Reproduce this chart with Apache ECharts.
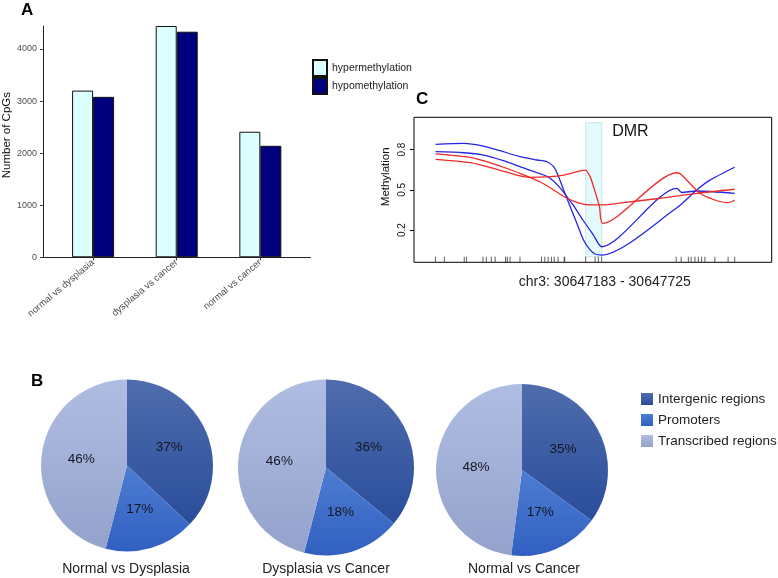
<!DOCTYPE html>
<html><head><meta charset="utf-8">
<script src="https://cdn.jsdelivr.net/npm/echarts@6/dist/echarts.min.js"></script>
<style>html,body{margin:0;padding:0;background:#fff}#c{width:778px;height:578px}</style>
</head><body><div id="c"></div>
<script>
// ---------- Panel A: differentially methylated CpGs ----------
const comparisons = ['normal vs dysplasia', 'dysplasia vs cancer', 'normal vs cancer'];
const hyperCounts = [3200, 4440, 2410];
const hypoCounts = [3080, 4330, 2140];
const countTicks = [0, 1000, 2000, 3000, 4000];
const countMax = 4440;

// ---------- Panel B: genomic distribution (%) ----------
const regionNames = ['Intergenic regions', 'Promoters', 'Transcribed regions'];
const pieTitles = ['Normal vs Dysplasia', 'Dysplasia vs Cancer', 'Normal vs Cancer'];
const pieNormalDysplasia = [37, 17, 46];
const pieDysplasiaCancer = [36, 18, 46];
const pieNormalCancer = [35, 17, 48];

// ---------- Panel C: methylation around DMR ----------
const regionStart = 30647183, regionEnd = 30647725;
// CpG offsets (bp from regionStart)
const cpgOffsets = [0,16,52,56,86,92,101,108,127,130,135,153,192,198,204,210,215,222,233,234,272,289,295,301,436,445,458,463,470,476,482,488,506,530,542];
const dmrRange = [272, 301];
const methTicks = [0.2, 0.5, 0.8];
const blueA = [[0,0.839],[51,0.846],[87,0.826],[117,0.791],[153,0.747],[184,0.722],[202,0.709],[214,0.672],[223,0.598],[232,0.499],[244,0.374],[256,0.250],[268,0.126],[280,0.052],[289,0.022],[301,0.014],[436,0.362],[473,0.498],[497,0.572],[542,0.668]];
const blueB = [[0,0.784],[51,0.776],[87,0.759],[123,0.717],[153,0.672],[184,0.627],[205,0.593],[226,0.513],[249,0.387],[267,0.275],[286,0.163],[301,0.076],[437,0.511],[446,0.480],[473,0.491],[542,0.474]];
const redA = [[0,0.727],[63,0.702],[105,0.660],[153,0.603],[171,0.593],[208,0.598],[232,0.610],[271,0.647],[280,0.598],[289,0.486],[297,0.374],[303,0.250],[437,0.627],[446,0.610],[479,0.474],[506,0.424],[530,0.404],[542,0.424]];
const redB = [[0,0.767],[63,0.741],[93,0.709],[123,0.668],[153,0.623],[190,0.558],[214,0.499],[238,0.437],[262,0.399],[280,0.387],[301,0.387],[340,0.404],[407,0.437],[473,0.474],[542,0.504]];

const FONT = '"Liberation Sans", Arial, sans-serif';
const chart = echarts.init(document.getElementById('c'), null, {renderer: 'canvas'});

function grad(top, bottom) {
  return {type: 'linear', x: 0, y: 0, x2: 0, y2: 1, colorStops: [{offset: 0, color: top}, {offset: 1, color: bottom}]};
}
const regionColors = [grad('#4f6dad', '#2a4d9b'), grad('#4d7dd2', '#3160c1'), grad('#b0bde2', '#94a2cc')];

function pie(values, center, radius) {
  return {
    type: 'pie', center: center, radius: radius, startAngle: 90, clockwise: true,
    silent: true, animation: false,
    label: {show: true, position: 'inside', formatter: '{c}%', fontSize: 13.5, color: '#15151f', fontFamily: FONT},
    labelLine: {show: false},
    itemStyle: {borderWidth: 0},
    data: regionNames.map((n, i) => ({name: n, value: values[i], itemStyle: {color: regionColors[i]}}))
  };
}

const lineCommon = {type: 'line', xAxisIndex: 1, yAxisIndex: 1, showSymbol: false, smooth: 0.25, silent: true, animation: false};

const option = {
  animation: false,
  textStyle: {fontFamily: FONT},
  title: [
    {text: 'A', left: 21, top: 2, padding: 0, textStyle: {fontSize: 17, fontWeight: 'bold', color: '#000'}},
    {text: 'B', left: 31, top: 373, padding: 0, textStyle: {fontSize: 17, fontWeight: 'bold', color: '#000'}},
    {text: 'C', left: 416, top: 91, padding: 0, textStyle: {fontSize: 17, fontWeight: 'bold', color: '#000'}},
    {text: pieTitles[0], left: 126, top: 562, padding: 0, textAlign: 'center', textStyle: {fontSize: 14, fontWeight: 'normal', color: '#222'}},
    {text: pieTitles[1], left: 326, top: 562, padding: 0, textAlign: 'center', textStyle: {fontSize: 14, fontWeight: 'normal', color: '#222'}},
    {text: pieTitles[2], left: 524, top: 562, padding: 0, textAlign: 'center', textStyle: {fontSize: 14, fontWeight: 'normal', color: '#222'}}
  ],
  legend: [
    {data: ['hypermethylation', 'hypomethylation'], orient: 'vertical', left: 312, top: 59, padding: 0,
     itemWidth: 14, itemHeight: 16, itemGap: 0, icon: 'rect', selectedMode: false,
     textStyle: {fontSize: 10.5, color: '#222'}},
    {data: regionNames, orient: 'vertical', left: 641, top: 392, padding: 0,
     itemWidth: 12, itemHeight: 12, itemGap: 7, icon: 'rect', selectedMode: false,
     textStyle: {fontSize: 13.5, color: '#222'}}
  ],
  grid: [
    {left: 42.5, top: 26, width: 268, height: 231.3},
    {left: 414, top: 117.3, width: 357.7, height: 145, show: true, borderColor: '#000', borderWidth: 1}
  ],
  xAxis: [
    {type: 'value', gridIndex: 0, min: 0.4, max: 3.6,
     axisLine: {show: true, onZero: false, lineStyle: {color: '#222', width: 1}},
     axisTick: {show: true, customValues: [1, 2, 3], length: 3, lineStyle: {color: '#333'}},
     axisLabel: {show: true, customValues: [1, 2, 3], rotate: 40, margin: 4, fontSize: 9.5, color: '#4d4d4d',
                 formatter: v => comparisons[Math.round(v) - 1]},
     splitLine: {show: false}},
    {type: 'value', gridIndex: 1, min: -39, max: 609,
     axisLine: {show: false, onZero: false}, axisTick: {show: false}, axisLabel: {show: false}, splitLine: {show: false},
     name: 'chr3: ' + regionStart + ' - ' + regionEnd, nameLocation: 'middle', nameGap: 13,
     nameTextStyle: {fontSize: 14, color: '#222', padding: [0, 0, 0, 24]}}
  ],
  yAxis: [
    {type: 'value', gridIndex: 0, min: 0, max: countMax,
     axisLine: {show: true, onZero: false, lineStyle: {color: '#222', width: 1}},
     axisTick: {show: true, customValues: countTicks, length: 3, lineStyle: {color: '#333'}},
     axisLabel: {show: true, customValues: countTicks, margin: 6, fontSize: 9, color: '#4d4d4d',
                 formatter: v => String(v)},
     splitLine: {show: false},
     name: 'Number of CpGs', nameLocation: 'middle', nameGap: 29,
     nameTextStyle: {fontSize: 11.5, color: '#111', padding: [0, 0, 0, 13]}},
    {type: 'value', gridIndex: 1, min: -0.04, max: 1.04,
     axisLine: {show: false, onZero: false},
     axisTick: {show: true, customValues: methTicks, length: 4, lineStyle: {color: '#000'}},
     axisLabel: {show: true, customValues: methTicks, rotate: 90, margin: 7, fontSize: 10, color: '#111',
                 formatter: v => v.toFixed(1)},
     splitLine: {show: false},
     name: 'Methylation', nameLocation: 'middle', nameGap: 22,
     nameTextStyle: {fontSize: 11.5, color: '#111', padding: [0, 0, 0, 26]}}
  ],
  series: [
    {name: 'hypermethylation', type: 'bar', xAxisIndex: 0, yAxisIndex: 0, barWidth: 21, barGap: '0%', silent: true,
     itemStyle: {color: '#dcffff', borderColor: '#111', borderWidth: 1},
     data: hyperCounts.map((v, i) => [i + 1, v])},
    {name: 'hypomethylation', type: 'bar', xAxisIndex: 0, yAxisIndex: 0, barWidth: 21, barGap: '0%', silent: true,
     itemStyle: {color: '#00007f', borderColor: '#111', borderWidth: 1},
     data: hypoCounts.map((v, i) => [i + 1, v])},
    pie(pieNormalDysplasia, [127, 465.5], 86),
    pie(pieDysplasiaCancer, [326, 467.5], 88),
    pie(pieNormalCancer, [522, 470], 86),
    Object.assign({}, lineCommon, {
      name: 'blueA', data: blueA, lineStyle: {color: '#2424e6', width: 1.3}, itemStyle: {color: '#2424e6'},
      markArea: {silent: true,
        itemStyle: {color: '#e3fbfc', borderColor: '#cfe6ea', borderWidth: 1},
        label: {show: true, position: ['100%', '0%'], offset: [10, 1], align: 'left', verticalAlign: 'top',
                fontSize: 16, color: '#111', formatter: 'DMR'},
        data: [[{xAxis: dmrRange[0], yAxis: 0}, {xAxis: dmrRange[1], yAxis: 1}]]},
      z: 3}),
    Object.assign({}, lineCommon, {name: 'blueB', data: blueB, lineStyle: {color: '#2424e6', width: 1.3}, itemStyle: {color: '#2424e6'}, z: 3}),
    Object.assign({}, lineCommon, {name: 'redA', data: redA, lineStyle: {color: '#ee2a2a', width: 1.3}, itemStyle: {color: '#ee2a2a'}, z: 3}),
    Object.assign({}, lineCommon, {name: 'redB', data: redB, lineStyle: {color: '#ee2a2a', width: 1.3}, itemStyle: {color: '#ee2a2a'}, z: 3}),
    {name: 'CpG', type: 'scatter', xAxisIndex: 1, yAxisIndex: 1, silent: true, symbol: 'rect', symbolSize: [1, 5.5],
     itemStyle: {color: '#333'}, data: cpgOffsets.map(p => [p, -0.019])}
  ]
};
chart.setOption(option);
</script>
</body></html>
